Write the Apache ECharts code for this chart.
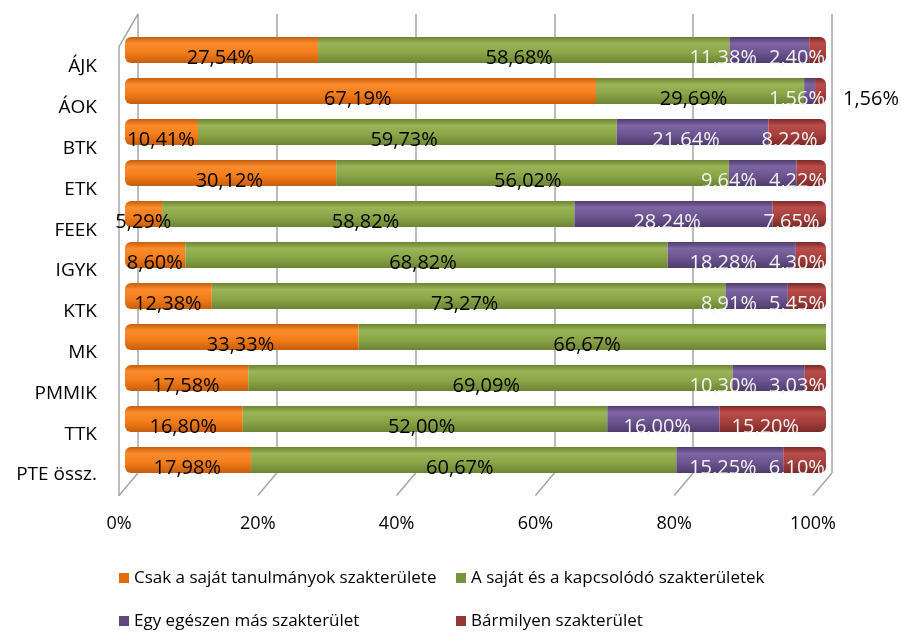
<!DOCTYPE html>
<html>
<head>
<meta charset="utf-8">
<script src="https://cdn.jsdelivr.net/npm/echarts@6/dist/echarts.min.js"></script>
<style>
html,body{margin:0;padding:0;background:#fff;}
#chart{width:901px;height:633px;}
</style>
</head>
<body>
<div id="chart"></div>
<script>
var cats = ['ÁJK','ÁOK','BTK','ETK','FEEK','IGYK','KTK','MK','PMMIK','TTK','PTE össz.'];
var csak = [27.54, 67.19, 10.41, 30.12, 5.29, 8.60, 12.38, 33.33, 17.58, 16.80, 17.98];
var sajat = [58.68, 29.69, 59.73, 56.02, 58.82, 68.82, 73.27, 66.67, 69.09, 52.00, 60.67];
var mas = [11.38, 1.56, 21.64, 9.64, 28.24, 18.28, 8.91, 0, 10.30, 16.00, 15.25];
var barmi = [2.40, 1.56, 8.22, 4.22, 7.65, 4.30, 5.45, 0, 3.03, 15.20, 6.10];
var xTicks = [0, 20, 40, 60, 80, 100];
var names = ['Csak a saját tanulmányok szakterülete','A saját és a kapcsolódó szakterületek','Egy egészen más szakterület','Bármilyen szakterület'];

var FONT = '"Open Sans", "Noto Sans", sans-serif';
var vals = [csak, sajat, mas, barmi];
// bar colors: [dark, light, base]
var cols = [
	['#C65E0C','#FB8C2E','#F47D1A'],
	['#6C8434','#9AB456','#8AA647'],
	['#4F3C6C','#7E66A4','#6C5490'],
	['#7A2A28','#BA4D4A','#A6403D']
];
var legendCols = ['#E46C0A','#77933C','#5F497A','#953735'];

function fmt(v){ return v.toFixed(2).replace('.', ',') + '%'; }

// label placement (Excel 3D style: labels a bit compressed, pushed in at the right end)
var BL = 125, BW = 701, LW = 693, RL = 825;
var ctx = document.createElement('canvas').getContext('2d');
ctx.font = '20px ' + FONT;
function tw(s){ return ctx.measureText(s).width; }
function cum(si, i){ var s = 0; for (var k = 0; k < si; k++) s += vals[k][i]; return s; }
function leftOf(si, i){
	var v = vals[si][i];
	var w = tw(fmt(v));
	var c = BL + (cum(si, i) + v / 2) / 100 * LW;
	var left = c - w / 2;
	if (si === 3) {
		if (v < 2) return RL + 18;
		return Math.min(left, RL - w);
	}
	if (si === 2) {
		var lim = barmi[i] >= 2 ? leftOf(3, i) - 12 : RL;
		return Math.min(left, lim - w);
	}
	return left;
}

function grad(c){
	return new echarts.graphic.LinearGradient(0, 0, 0, 1, [
		{offset: 0, color: c[0]},
		{offset: 0.25, color: c[1]},
		{offset: 0.6, color: c[2]},
		{offset: 1, color: c[0]}
	]);
}

var series = vals.map(function(arr, si){
	return {
		name: names[si],
		type: 'bar',
		stack: 'total',
		xAxisIndex: 0,
		yAxisIndex: 0,
		barWidth: 26,
		itemStyle: {
			color: grad(cols[si]),
			borderRadius: si === 0 ? [6, 0, 0, 6] : (si === 3 ? [0, 6, 6, 0] : 0)
		},
		label: {
			show: true,
			position: 'inside',
			fontFamily: FONT,
			fontSize: 20,
			color: si < 2 ? '#000' : '#F2F2F2',
			formatter: function(p){ return p.value > 0 ? fmt(p.value) : ''; }
		},
		labelLayout: function(p){
			return {
				x: leftOf(p.seriesIndex, p.dataIndex),
				y: p.rect.y + p.rect.height / 2 + 8,
				align: 'left',
				verticalAlign: 'middle'
			};
		},
		data: arr.map(function(v){
			if (si === 3 && v > 0 && v < 2) return {value: v, label: {color: '#000'}};
			return v;
		})
	};
});

var myChart = echarts.init(document.getElementById('chart'));
var legendText = {fontFamily: FONT, fontSize: 17, lineHeight: 20, color: '#000'};
var option = {
	animation: false,
	grid: [
		{left: 125, top: 29.5, width: 701, height: 451}, // bars
		{left: 138, top: 14, width: 694, height: 459}, // back wall
		{left: 119, top: 46.6, width: 694, height: 448.8} // front labels
	],
	xAxis: [
		{gridIndex: 0, type: 'value', min: 0, max: 100, show: false},
		{gridIndex: 1, type: 'value', min: 0, max: 100, interval: 20,
			axisLine: {show: false}, axisTick: {show: false}, axisLabel: {show: false},
			splitLine: {show: true, lineStyle: {color: '#A6A6A6', width: 1.5}}},
		{gridIndex: 2, type: 'value', min: 0, max: 100, interval: 20,
			axisLine: {show: false}, axisTick: {show: false}, splitLine: {show: false},
			axisLabel: {margin: 19, fontFamily: FONT, fontSize: 18, color: '#000', formatter: '{value}%',
				customValues: xTicks}}
	],
	yAxis: [
		{gridIndex: 0, type: 'category', inverse: true, data: cats, show: false},
		{gridIndex: 1, type: 'category', inverse: true, data: cats, show: false},
		{gridIndex: 2, type: 'category', inverse: true, data: cats,
			axisLine: {show: true, lineStyle: {color: '#A6A6A6', width: 1.5}},
			axisTick: {show: false},
			axisLabel: {margin: 22, fontFamily: FONT, fontSize: 19, color: '#000'}}
	],
	legend: [
		{orient: 'vertical', left: 119, top: 568, height: 65, itemGap: 23, itemWidth: 10, itemHeight: 10, icon: 'rect',
			padding: 0, textStyle: legendText,
			data: [{name: names[0], itemStyle: {color: legendCols[0]}}, {name: names[2], itemStyle: {color: legendCols[2]}}]},
		{orient: 'vertical', left: 456, top: 568, height: 65, itemGap: 23, itemWidth: 10, itemHeight: 10, icon: 'rect',
			padding: 0, textStyle: legendText,
			data: [{name: names[1], itemStyle: {color: legendCols[1]}}, {name: names[3], itemStyle: {color: legendCols[3]}}]}
	],
	series: series
};
myChart.setOption(option);

// 3D frame: floor diagonals and top-left edge, from the back and front axes
var lines = [];
var lineStyle = {stroke: '#A6A6A6', lineWidth: 1.5};
var backBottom = myChart.convertToPixel({yAxisIndex: 1}, cats[cats.length - 1]) + 459 / 22;
var frontBottom = myChart.convertToPixel({yAxisIndex: 2}, cats[cats.length - 1]) + 448.8 / 22;
xTicks.forEach(function(t){
	var bx = myChart.convertToPixel({xAxisIndex: 1}, t);
	var fx = myChart.convertToPixel({xAxisIndex: 2}, t);
	lines.push({type: 'line', shape: {x1: bx, y1: backBottom, x2: fx, y2: frontBottom}, style: lineStyle, silent: true});
});
var backTop = myChart.convertToPixel({yAxisIndex: 1}, cats[0]) - 459 / 22;
var frontTop = myChart.convertToPixel({yAxisIndex: 2}, cats[0]) - 448.8 / 22;
lines.push({type: 'line', shape: {
	x1: myChart.convertToPixel({xAxisIndex: 1}, 0), y1: backTop,
	x2: myChart.convertToPixel({xAxisIndex: 2}, 0), y2: frontTop}, style: lineStyle, silent: true});
myChart.setOption({graphic: lines});
</script>
</body>
</html>
